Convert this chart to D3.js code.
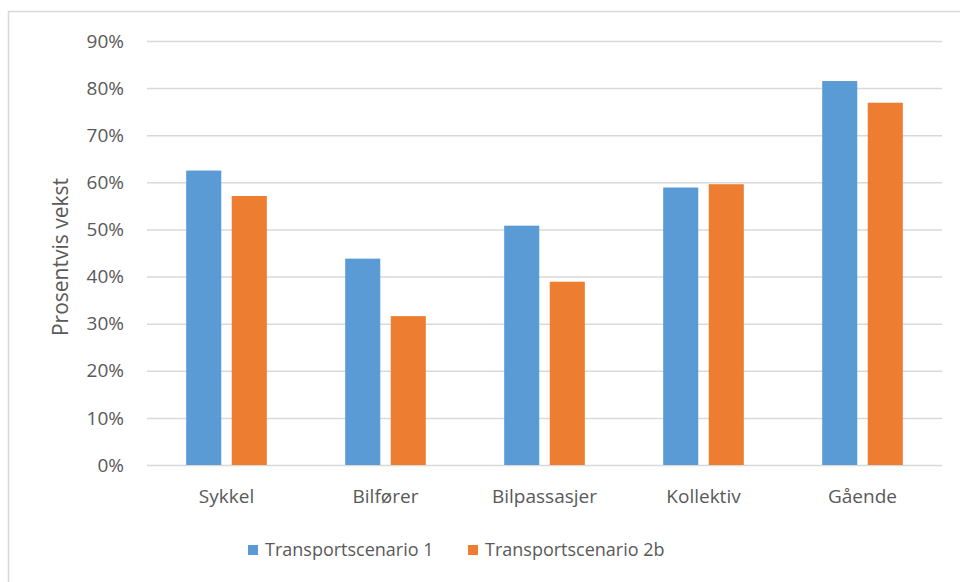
<!DOCTYPE html>
<html lang="no">
<head>
<meta charset="utf-8">
<script src="https://cdn.jsdelivr.net/npm/d3@7"></script>
<style>
    body { margin: 0; background: #fff; }
    svg text { font-family: "Open Sans", sans-serif; fill: #595959; }
    .grid line { stroke: #d9d9d9; stroke-width: 1.5; }
    .grid path { display: none; }
</style>
</head>
<body>
<script>
const categories = ["Sykkel", "Bilfører", "Bilpassasjer", "Kollektiv", "Gående"];
const seriesNames = ["Transportscenario 1", "Transportscenario 2b"];
const scenario1 = [62.5, 43.8, 50.8, 58.9, 81.5];
const scenario2b = [57.1, 31.6, 38.9, 59.6, 76.9];
const yTicks = [0, 10, 20, 30, 40, 50, 60, 70, 80, 90];
const colors = ["#5b9bd5", "#ed7d31"];

let w = 960, h = 582;
let plot = {left: 147, right: 942, top: 41, bottom: 465};

let svg = d3.select("body").append("svg")
    .attr("width", w)
    .attr("height", h);

// outer frame (top and left edges visible)
svg.append("path")
    .attr("d", "M8.5,582 L8.5,11.5 L960,11.5")
    .attr("fill", "none")
    .attr("stroke", "#d9d9d9")
    .attr("stroke-width", 1.5);

let x0 = d3.scaleBand()
    .domain(categories)
    .range([plot.left, plot.right]);

let x1 = d3.scaleBand()
    .domain(seriesNames)
    .range([0, x0.bandwidth()])
    .paddingInner(0.23)
    .paddingOuter(0.86);

let y = d3.scaleLinear()
    .domain([0, 90])
    .range([plot.bottom, plot.top]);

// gridlines
svg.append("g")
    .attr("class", "grid")
    .attr("transform", "translate(" + plot.left + ",0)")
    .call(d3.axisLeft(y).tickValues(yTicks).tickSize(-(plot.right - plot.left)).tickFormat(""));

// y tick labels
svg.append("g")
    .selectAll("text")
    .data(yTicks)
    .enter()
    .append("text")
    .attr("x", 124)
    .attr("y", (d) => y(d))
    .attr("dy", "0.35em")
    .attr("text-anchor", "end")
    .attr("font-size", "19px")
    .text((d) => d + "%");

// bars
let rows = categories.map((c, i) => ({cat: c, vals: [scenario1[i], scenario2b[i]]}));

let groups = svg.append("g")
    .selectAll("g")
    .data(rows)
    .enter()
    .append("g")
    .attr("transform", (d) => "translate(" + x0(d.cat) + ",0)");

groups.selectAll("rect")
    .data((d) => d.vals.map((v, j) => ({name: seriesNames[j], value: v, j: j})))
    .enter()
    .append("rect")
    .attr("x", (d) => x1(d.name))
    .attr("y", (d) => y(d.value))
    .attr("width", x1.bandwidth())
    .attr("height", (d) => y(0) - y(d.value))
    .attr("fill", (d) => colors[d.j]);

// x labels
svg.append("g")
    .selectAll("text")
    .data(categories)
    .enter()
    .append("text")
    .attr("x", (d) => x0(d) + x0.bandwidth() / 2)
    .attr("y", 503)
    .attr("text-anchor", "middle")
    .attr("font-size", "19px")
    .text((d) => d);

// y axis title
svg.append("text")
    .attr("transform", "translate(68," + ((plot.top + plot.bottom) / 2 + 4) + ") rotate(-90)")
    .attr("text-anchor", "middle")
    .attr("font-size", "21px")
    .text("Prosentvis vekst");

// legend
let legendX = [248, 468];
let legend = svg.append("g")
    .selectAll("g")
    .data(seriesNames)
    .enter()
    .append("g")
    .attr("transform", (d, i) => "translate(" + legendX[i] + ",545)");

legend.append("rect")
    .attr("width", 10)
    .attr("height", 10)
    .attr("fill", (d, i) => colors[i]);

legend.append("text")
    .attr("x", 17)
    .attr("y", 11)
    .attr("font-size", "18px")
    .text((d) => d);
</script>
</body>
</html>
